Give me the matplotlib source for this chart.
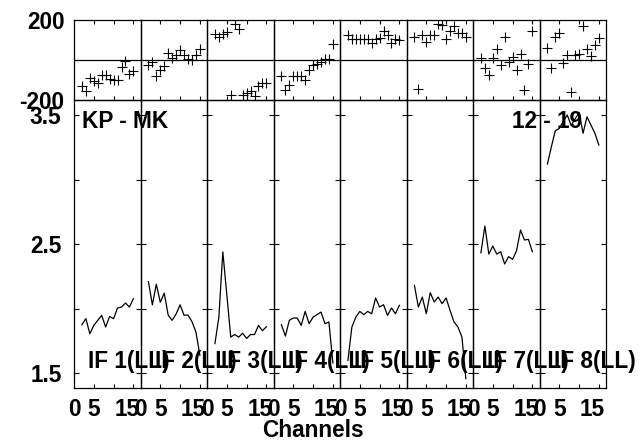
import matplotlib
matplotlib.use("Agg")
import matplotlib.pyplot as plt
import numpy as np

plt.rcParams['font.family'] = ['Liberation Sans', 'DejaVu Sans']
plt.rcParams['font.weight'] = 'bold'

channels = list(range(2, 16))
if_labels = ["IF 1(LL)", "IF 2(LL)", "IF 3(LL)", "IF 4(LL)",
             "IF 5(LL)", "IF 6(LL)", "IF 7(LL)", "IF 8(LL)"]

phase_if1 = [-132, -154, -88, -107, -114, -76, -76, -95, -101, -101, -34, -3, -72, -53]
phase_if2 = [-26, -9, -82, -51, -32, 37, 12, 27, 49, 25, 5, 2, 24, 57]
phase_if3 = [128, 117, 128, 140, -175, 178, 157, -175, -167, -155, -180, -130, -113, -113]
phase_if4 = [-80, -150, -123, -81, -80, -78, -101, -48, -26, -22, -10, 7, 7, 82]
phase_if5 = [124, 107, 103, 103, 103, 107, 83, 103, 112, 146, 124, 87, 107, 100]
phase_if6 = [115, -143, 123, 90, 123, 124, 179, 177, 103, 147, 168, 136, 135, 116]
phase_if7 = [10, -42, -75, 10, 53, -23, 115, -8, 17, -50, 29, -150, -22, 145]
phase_if8 = [58, -40, 115, 135, -15, 24, -159, 23, 30, 168, 53, 18, 74, 110]

amp_if1 = [1.876, 1.923, 1.806, 1.871, 1.91, 1.948, 1.858, 1.94, 1.923, 2.005, 2.013, 2.044, 2.013, 2.077]
amp_if2 = [2.21, 2.03, 2.19, 2.05, 2.12, 1.95, 1.91, 1.96, 2.03, 1.95, 1.95, 1.90, 1.82, 1.64]
amp_if3 = [1.73, 1.935, 2.44, 2.11, 1.78, 1.80, 1.78, 1.81, 1.77, 1.80, 1.80, 1.87, 1.83, 1.86]
amp_if4 = [1.876, 1.788, 1.91, 1.928, 1.928, 1.871, 1.979, 1.884, 1.935, 1.954, 1.974, 1.884, 1.897, 1.58]
amp_if5 = [1.60, 1.858, 1.935, 1.979, 1.954, 1.979, 1.961, 2.083, 2.013, 2.031, 1.948, 2.005, 1.961, 2.026]
amp_if6 = [2.181, 2.013, 2.09, 1.961, 2.124, 2.052, 2.09, 2.039, 2.083, 1.987, 1.897, 1.858, 1.781, 1.458]
amp_if7 = [2.433, 2.64, 2.423, 2.485, 2.423, 2.441, 2.346, 2.403, 2.382, 2.449, 2.609, 2.532, 2.537, 2.441]
amp_if8 = [3.12, 3.254, 3.378, 3.396, 3.45, 3.50, 3.42, 3.47, 3.52, 3.358, 3.486, 3.422, 3.358, 3.267]

phases = [phase_if1, phase_if2, phase_if3, phase_if4, phase_if5, phase_if6, phase_if7, phase_if8]
amps = [amp_if1, amp_if2, amp_if3, amp_if4, amp_if5, amp_if6, amp_if7, amp_if8]

W, H = 643, 442
fig = plt.figure(figsize=(W / 100, H / 100), dpi=100)
gs = fig.add_gridspec(2, 8, left=74 / W, right=606 / W, top=1 - 20 / H, bottom=1 - 388 / H,
                      height_ratios=[80, 288], wspace=0, hspace=0)

FS = 16.3
XMAX = 16.8
px = 72 / 100.0  # points per pixel

for i in range(8):
    axp = fig.add_subplot(gs[0, i])
    axa = fig.add_subplot(gs[1, i])
    for ax in (axp, axa):
        ax.set_facecolor('none')
        for s in ax.spines.values():
            s.set_linewidth(0.9)
        ax.set_xlim(0, XMAX)
        ax.set_xticks([5, 10, 15])
        ax.set_xticklabels([])
    # phase panel
    axp.plot(channels, phases[i], linestyle='none', marker='+', color='black',
             markersize=6.5, markeredgewidth=0.8)
    axp.axhline(0, color='black', linewidth=0.9)
    axp.set_ylim(-200, 200)
    axp.tick_params(axis='x', which='both', direction='in', top=True, bottom=True,
                    length=4 * px, width=0.8)
    if i == 0:
        axp.set_yticks([-200, 200])
        axp.set_yticklabels(['-200', '200'], fontsize=FS, fontweight='bold')
        axp.tick_params(axis='y', length=0, pad=7)
    else:
        axp.set_yticks([])
    # amplitude panel
    axa.plot(channels, amps[i], color='black', linewidth=0.9)
    axa.set_ylim(1.386, 3.616)
    axa.set_yticks([1.5, 2.0, 2.5, 3.0, 3.5])
    axa.tick_params(axis='y', direction='in', left=True, right=True, length=5 * px, width=0.8)
    axa.tick_params(axis='x', direction='in', bottom=True, top=False, length=4 * px, width=0.8)
    if i == 0:
        axa.set_yticklabels(['1.5', '', '2.5', '', '3.5'], fontsize=FS, fontweight='bold')
        axa.tick_params(axis='y', pad=9)
    else:
        axa.set_yticklabels([])
    # x tick labels
    for xv, lab in ((0, '0'), (5, '5')):
        axa.annotate(lab, xy=(xv, 0), xycoords=('data', 'axes fraction'),
                     xytext=(0, -21 * px), textcoords='offset points',
                     ha='center', va='center', fontsize=FS, fontweight='bold')
    axa.annotate('15', xy=(1.0, 0), xycoords='axes fraction',
                 xytext=(-1 * px, -21 * px), textcoords='offset points',
                 ha='right', va='center', fontsize=FS, fontweight='bold')
    axa.text(0.215, 20 / 288, if_labels[i], transform=axa.transAxes,
             ha='left', va='baseline', fontsize=FS, fontweight='bold', zorder=10)

fig.text(82 / W, 1 - 128.3 / H, 'KP - MK', ha='left', va='baseline',
         fontsize=FS, fontweight='bold')
fig.text(582 / W, 1 - 128.3 / H, '12 - 19', ha='right', va='baseline',
         fontsize=FS, fontweight='bold')
fig.text(262 / W, 1 - 437 / H, 'Channels', ha='left', va='baseline',
         fontsize=FS, fontweight='bold')

fig.savefig('out.png', dpi=100, facecolor='white')
